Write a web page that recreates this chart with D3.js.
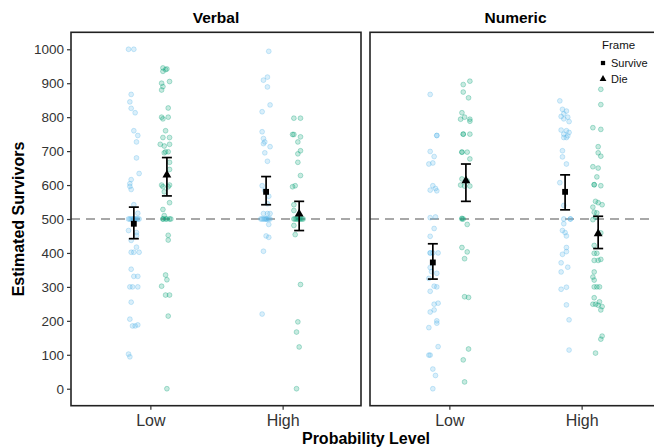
<!DOCTYPE html>
<html><head><meta charset="UTF-8">
<title>Estimated Survivors</title>
<script src="https://d3js.org/d3.v7.min.js"></script>
<style>
  body { margin: 0; background: #fff; }
  text { font-family: "Liberation Sans", Arial, sans-serif; }
</style>
</head>
<body>
<svg id="chart" width="654" height="448"></svg>
<script>
// facets / categories / frames
var panels = ["Verbal", "Numeric"];
var levels = ["Low", "High"];
var frames = ["Survive", "Die"];
var yTicks = [0, 100, 200, 300, 400, 500, 600, 700, 800, 900, 1000];

// raw responses: [estimate, jitter (hundredths of a category step)]
var verbalLowSurvive = [[1000,-4],[1000,0],[867,-2],[845,-3],[826,-2],[813,1],[760,0],[746,3],[727,2],[680,2],[634,4],[616,-2],[604,-3],[596,-3],[587,-2],[542,0],[517,3],[500,-4],[500,-3],[500,-2],[500,-1],[500,0],[500,0],[500,1],[500,2],[500,3],[500,4],[466,-4],[460,2],[452,2],[437,-2],[417,2],[402,-2],[402,0],[402,4],[352,-2],[331,0],[331,3],[300,-3],[300,-1],[300,3],[255,-2],[205,-3],[185,-1],[185,1],[188,3],[102,-4],[94,-3]];
var verbalLowDie = [[945,-3],[940,-1],[935,-3],[942,0],[905,2],[900,-4],[890,-3],[880,-4],[827,1],[800,-4],[795,-3],[800,1],[760,-1],[740,-3],[740,2],[720,-5],[720,2],[715,-2],[698,-1],[698,1],[695,-2],[667,2],[646,2],[600,-4],[595,-3],[600,2],[595,1],[580,-2],[548,2],[528,-3],[510,-2],[500,-3],[500,-3],[500,-1],[500,0],[500,2],[500,3],[452,1],[438,1],[335,-1],[321,0],[302,-4],[276,-1],[276,2],[214,1],[0,0]];
var verbalHighSurvive = [[994,2],[918,1],[909,-2],[889,1],[836,3],[816,-3],[757,-3],[737,-2],[727,-1],[722,-2],[713,3],[695,-1],[670,1],[598,-3],[584,-1],[567,2],[545,1],[516,-2],[516,1],[516,3],[500,-4],[500,-3],[500,-2],[500,-1],[500,0],[500,0],[500,1],[500,2],[500,3],[484,2],[450,0],[446,2],[405,-2],[220,-3]];
var verbalHighDie = [[797,-4],[797,1],[749,-5],[749,-4],[742,1],[727,-1],[701,1],[692,-1],[667,-1],[628,1],[595,-5],[598,-3],[542,-4],[525,-4],[500,-4],[500,-3],[500,-2],[500,-1],[500,0],[500,1],[500,2],[500,3],[481,-4],[454,-3],[307,1],[197,-1],[167,-2],[123,0],[0,-2]];
var numericLowSurvive = [[867,-2],[746,3],[746,3],[699,-2],[684,1],[662,-3],[665,0],[598,0],[590,2],[585,-2],[583,3],[504,-2],[506,2],[472,1],[449,-2],[400,-2],[400,-2],[400,4],[400,0],[357,-2],[340,3],[325,-3],[345,-1],[302,1],[300,3],[287,-2],[249,1],[252,4],[232,1],[226,-2],[200,3],[193,3],[180,-3],[124,4],[99,-3],[99,-2],[58,0],[39,2],[0,0]];
var numericLowDie = [[906,3],[896,-2],[874,-2],[857,2],[813,-3],[794,-4],[800,-1],[794,3],[788,3],[750,-2],[750,-2],[750,3],[697,-3],[697,-3],[697,1],[677,3],[618,-3],[612,1],[600,-4],[597,-1],[597,3],[502,-3],[500,-3],[500,-2],[484,1],[416,-3],[403,1],[383,-1],[271,-1],[269,2],[117,2],[85,-2],[20,-1]];
var numericHighSurvive = [[848,-4],[823,-2],[818,1],[810,-1],[802,-3],[800,2],[795,-1],[787,3],[762,-3],[760,1],[755,3],[750,-1],[740,-1],[745,2],[740,1],[701,-2],[683,-2],[662,1],[607,-4],[540,-1],[500,-1],[500,4],[500,4],[486,-1],[466,-2],[460,0],[450,1],[416,1],[396,-2],[404,1],[371,-3],[344,-3],[358,2],[293,-3],[299,1],[247,1],[203,3],[114,3]];
var numericHighDie = [[882,2],[837,2],[769,-4],[764,2],[713,0],[695,0],[685,2],[654,-4],[650,0],[624,-1],[601,-3],[601,-3],[598,2],[552,-2],[548,0],[542,3],[535,-4],[520,-3],[505,-2],[518,-1],[498,-4],[459,2],[422,-3],[399,-3],[399,-1],[378,-3],[378,0],[381,2],[344,-3],[329,-4],[320,-3],[300,-3],[300,-1],[300,1],[268,-3],[249,-4],[249,-2],[246,0],[256,1],[242,3],[232,2],[155,3],[146,2],[105,-2]];

// group means with error bar ends, order: Verbal Low S, Verbal Low D, Verbal High S, Verbal High D, Numeric ...
var meanValues  = [486, 630, 580, 515, 372, 613, 580, 457];
var lowerValues = [442, 568, 542, 466, 323, 552, 527, 413];
var upperValues = [535, 681, 625, 552, 427, 662, 630, 508];
var reference = 500;

var rawGroups = [verbalLowSurvive, verbalLowDie, verbalHighSurvive, verbalHighDie,
                 numericLowSurvive, numericLowDie, numericHighSurvive, numericHighDie];

// build group table
var groups = [];
rawGroups.forEach(function(pts, i) {
  groups.push({
    panel: panels[Math.floor(i / 4)],
    level: levels[Math.floor(i / 2) % 2],
    frame: frames[i % 2],
    points: pts,
    mean: meanValues[i], lo: lowerValues[i], hi: upperValues[i]
  });
});

var colour = d3.scaleOrdinal().domain(frames).range(["#56B4E9", "#009E73"]);
var dodge = d3.scaleOrdinal().domain(frames).range([-0.125, 0.125]);

var svg = d3.select("#chart");
var plotTop = 32.3, plotBottom = 405.7;
var panelX = d3.scaleOrdinal().domain(panels).range([71, 370]);
var panelW = 291;

var y = d3.scaleLinear().domain([-50, 1050]).range([plotBottom, plotTop]);
var x = d3.scalePoint().domain(levels).range([0, panelW]).padding(0.6);
var step = x.step();

panels.forEach(function(p, pi) {
  var g = svg.append("g").attr("transform", "translate(" + panelX(p) + ",0)");
  var w = pi === 0 ? 290 : panelW;

  // reference line
  g.append("line")
    .attr("x1", 0).attr("x2", w)
    .attr("y1", y(reference)).attr("y2", y(reference))
    .attr("stroke", "#a8a8a8").attr("stroke-width", 2)
    .attr("stroke-dasharray", "9,6");

  var gs = groups.filter(function(d) { return d.panel === p; });

  // jittered raw points
  gs.forEach(function(grp) {
    var cx = x(grp.level) + dodge(grp.frame) * step;
    g.append("g").selectAll("circle")
      .data(grp.points)
      .enter().append("circle")
      .attr("cx", function(d) { return cx + d[1] / 100 * step; })
      .attr("cy", function(d) { return y(d[0]); })
      .attr("r", 2.4)
      .attr("fill", colour(grp.frame)).attr("fill-opacity", 0.22)
      .attr("stroke", colour(grp.frame)).attr("stroke-opacity", 0.35)
      .attr("stroke-width", 0.9);
  });

  // error bars and means
  gs.forEach(function(grp) {
    var cx = x(grp.level) + dodge(grp.frame) * step;
    var eb = g.append("g").attr("stroke", "#000").attr("stroke-width", 1.7);
    eb.append("line").attr("x1", cx).attr("x2", cx).attr("y1", y(grp.lo)).attr("y2", y(grp.hi));
    eb.append("line").attr("x1", cx - 5).attr("x2", cx + 5).attr("y1", y(grp.lo)).attr("y2", y(grp.lo));
    eb.append("line").attr("x1", cx - 5).attr("x2", cx + 5).attr("y1", y(grp.hi)).attr("y2", y(grp.hi));
    var sym = grp.frame === "Survive" ? d3.symbolSquare : d3.symbolTriangle;
    g.append("path")
      .attr("d", d3.symbol().type(sym).size(34))
      .attr("transform", "translate(" + cx + "," + y(grp.mean) + ")")
      .attr("fill", "#000");
  });

  // panel border
  g.append("rect")
    .attr("x", 0).attr("y", plotTop).attr("width", w).attr("height", plotBottom - plotTop)
    .attr("fill", "none").attr("stroke", "#222").attr("stroke-width", 1.6);

  // strip title
  g.append("text")
    .attr("x", w / 2).attr("y", 23)
    .attr("text-anchor", "middle")
    .style("font-size", "15.5px").style("font-weight", "bold")
    .text(p);

  // x axis
  var xa = g.append("g").attr("transform", "translate(0," + plotBottom + ")")
    .call(d3.axisBottom(x).tickSize(4).tickPadding(5));
  xa.select(".domain").remove();
  xa.selectAll("line").attr("stroke", "#333").attr("stroke-width", 1.2);
  xa.selectAll("text").attr("fill", "#333")
    .style("font-size", "16px").style("font-family", "Liberation Sans, Arial, sans-serif");

  if (pi === 0) {
    var ya = g.append("g")
      .call(d3.axisLeft(y).tickValues(yTicks).tickFormat(d3.format("d")).tickSize(4).tickPadding(3));
    ya.select(".domain").remove();
    ya.selectAll("line").attr("stroke", "#333").attr("stroke-width", 1.2);
    ya.selectAll("text").attr("fill", "#333")
      .style("font-size", "13.5px").style("font-family", "Liberation Sans, Arial, sans-serif");
  }
});

// axis titles
svg.append("text")
  .attr("x", (71 + 661) / 2).attr("y", 444)
  .attr("text-anchor", "middle")
  .style("font-size", "16px").style("font-weight", "bold")
  .text("Probability Level");

svg.append("text")
  .attr("transform", "translate(24," + (plotTop + plotBottom) / 2 + ") rotate(-90)")
  .attr("text-anchor", "middle")
  .style("font-size", "16px").style("font-weight", "bold")
  .text("Estimated Survivors");

// legend
var lg = svg.append("g").attr("transform", "translate(602,0)");
lg.append("text").attr("x", 0).attr("y", 49)
  .style("font-size", "11.5px").attr("fill", "#111").text("Frame");
frames.forEach(function(f, i) {
  var ly = 63 + i * 16;
  lg.append("path")
    .attr("d", d3.symbol().type(i === 0 ? d3.symbolSquare : d3.symbolTriangle).size(i === 0 ? 18 : 20))
    .attr("transform", "translate(1," + ly + ")")
    .attr("fill", "#000");
  lg.append("text").attr("x", 9).attr("y", ly + 4)
    .style("font-size", "11px").attr("fill", "#111").text(f);
});
</script>
</body></html>
